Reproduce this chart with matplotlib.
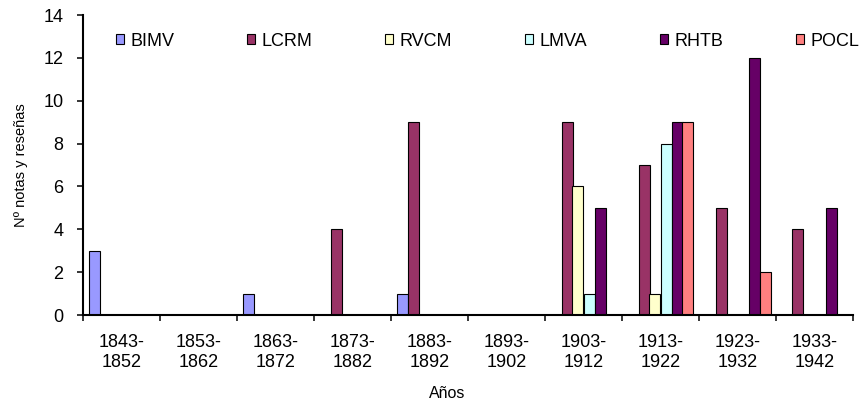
import matplotlib
matplotlib.use("Agg")
import matplotlib.pyplot as plt
import numpy as np

plt.rcParams['font.family'] = ['Liberation Sans', 'DejaVu Sans']

categories = ["1843-\n1852", "1853-\n1862", "1863-\n1872", "1873-\n1882", "1883-\n1892",
              "1893-\n1902", "1903-\n1912", "1913-\n1922", "1923-\n1932", "1933-\n1942"]
series_names = ["BIMV", "LCRM", "RVCM", "LMVA", "RHTB", "POCL"]
BIMV = [3, 0, 1, 0, 1, 0, 0, 0, 0, 0]
LCRM = [0, 0, 0, 4, 9, 0, 9, 7, 5, 4]
RVCM = [0, 0, 0, 0, 0, 0, 6, 1, 0, 0]
LMVA = [0, 0, 0, 0, 0, 0, 1, 8, 0, 0]
RHTB = [0, 0, 0, 0, 0, 0, 5, 9, 12, 5]
POCL = [0, 0, 0, 0, 0, 0, 0, 9, 2, 0]
colors = ["#9999FF", "#993366", "#FFFFCC", "#CCFFFF", "#660066", "#FF8080"]

data = [BIMV, LCRM, RVCM, LMVA, RHTB, POCL]

W, H = 860, 405
fig = plt.figure(figsize=(W / 100, H / 100), dpi=100)
ax = fig.add_axes([83 / W, 1 - 315 / H, 770 / W, 300 / H])

n = len(series_names)
x = np.arange(len(categories))
bw = 1.0 / (n + 1)
for i, (name, vals, c) in enumerate(zip(series_names, data, colors)):
    offs = x - 0.5 + bw / 2 + (i + 0.5) * bw
    vals = np.array(vals, dtype=float)
    mask = vals > 0
    ax.bar(offs[mask], vals[mask], width=bw, color=c, edgecolor='black', linewidth=0.8, label=name)

ax.set_xlim(-0.5, len(categories) - 0.5)
ax.set_ylim(0, 14)
ax.set_yticks(np.arange(0, 15, 2))
ax.set_xticks(x)
ax.set_xticklabels(categories, fontsize=13)
for t in ax.get_xticklabels():
    t.set_linespacing(1.2)
ax.set_xticks(np.arange(-0.5, len(categories), 1), minor=True)
ax.tick_params(axis='x', which='major', length=0, pad=14)
ax.tick_params(axis='x', which='minor', length=4, width=1.1, direction='out')
ax.tick_params(axis='y', length=4, width=1.1, direction='out', labelsize=13, pad=10)
for s in ['top', 'right']:
    ax.spines[s].set_visible(False)
for s in ['left', 'bottom']:
    ax.spines[s].set_linewidth(1.5)

ax.set_ylabel("Nº notas y reseñas", fontsize=10.5, labelpad=11)
ax.set_xlabel("Años", fontsize=11.5)
ax.xaxis.set_label_coords((447 - 83) / 770, (315 - 386) / 300)

leg = fig.legend(loc='center left', bbox_to_anchor=(116 / W, 1 - 47 / H, 743 / W, 12 / H), mode='expand',
                 ncol=6, frameon=False, fontsize=13, handlelength=0.45, handleheight=0.45,
                 handletextpad=0.35, borderaxespad=0, borderpad=0)

fig.savefig("out.png", dpi=100)
